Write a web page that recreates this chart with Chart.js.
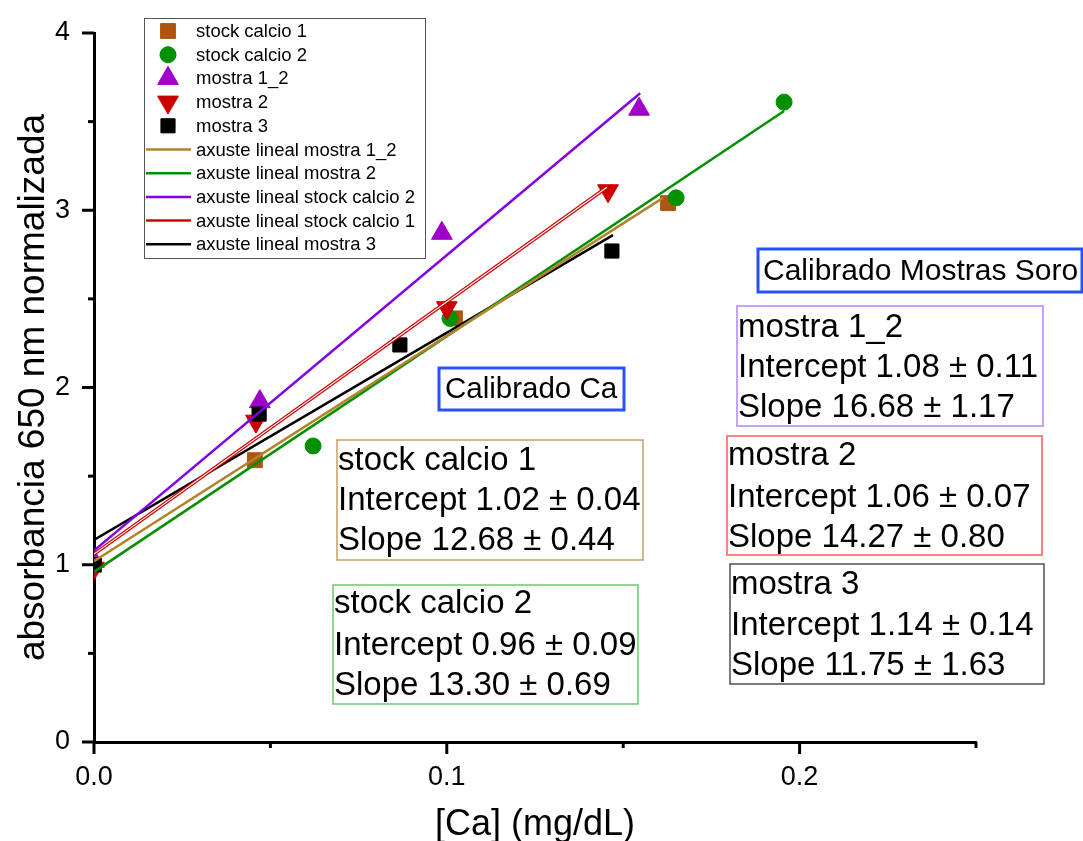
<!DOCTYPE html>
<html>
<head>
<meta charset="utf-8">
<script src="https://cdn.jsdelivr.net/npm/chart.js@4.4.1/dist/chart.umd.min.js"></script>
<style>
  html, body { margin: 0; padding: 0; background: #fff; }
  canvas { display: block; }
</style>
</head>
<body>
<canvas id="calChart" width="1083" height="841"></canvas>
<script>
const FONT = "'Liberation Sans', Arial, sans-serif";

// ===== datos medidos =====
const stockCalcio1X = [0, 0.0456, 0.1023, 0.1627];
const stockCalcio1Y = [1.00, 1.59, 2.39, 3.04];
const stockCalcio2X = [0, 0.0621, 0.1009, 0.1650, 0.1956];
const stockCalcio2Y = [1.00, 1.67, 2.39, 3.07, 3.61];
const mostra12X = [0, 0.0470, 0.0986, 0.1545];
const mostra12Y = [1.02, 1.92, 2.87, 3.57];
const mostra2X = [0, 0.0459, 0.1000, 0.1457];
const mostra2Y = [0.98, 1.81, 2.45, 3.11];
const mostra3X = [0, 0.0468, 0.0867, 0.1468];
const mostra3Y = [1.00, 1.85, 2.24, 2.77];

// ===== extremos das rectas de axuste =====
const fitMostra12X = [0, 0.1613];
const fitMostra12Y = [1.02, 3.07];
const fitMostra2X = [0, 0.1956];
const fitMostra2Y = [0.96, 3.56];
const fitStock2X = [0, 0.1548];
const fitStock2Y = [1.08, 3.66];
const fitStock1X = [0, 0.1454];
const fitStock1Y = [1.06, 3.13];
const fitMostra3X = [0, 0.1471];
const fitMostra3Y = [1.14, 2.86];

// ===== eixos =====
const xTicks = [0, 0.05, 0.1, 0.15, 0.2, 0.25];
const xTickLabels = ['0.0', '', '0.1', '', '0.2', ''];
const yTicks = [0, 0.5, 1, 1.5, 2, 2.5, 3, 3.5, 4];
const yTickLabels = ['0', '', '1', '', '2', '', '3', '', '4'];

// ===== textos dos cadros =====
const boxCalibradoCa = ['Calibrado Ca'];
const boxCalibradoSoro = ['Calibrado Mostras Soro'];
const boxStock1 = ['stock calcio 1', 'Intercept 1.02 \u00b1 0.04', 'Slope 12.68 \u00b1 0.44'];
const boxStock2 = ['stock calcio 2', 'Intercept 0.96 \u00b1 0.09', 'Slope 13.30 \u00b1 0.69'];
const boxMostra12 = ['mostra 1_2', 'Intercept 1.08 \u00b1 0.11', 'Slope 16.68 \u00b1 1.17'];
const boxMostra2 = ['mostra 2', 'Intercept 1.06 \u00b1 0.07', 'Slope 14.27 \u00b1 0.80'];
const boxMostra3 = ['mostra 3', 'Intercept 1.14 \u00b1 0.14', 'Slope 11.75 \u00b1 1.63'];

const pts = (xs, ys) => xs.map((x, i) => ({ x: x, y: ys[i] }));

function markers(label, xs, ys, color, style, radius, rotation, order) {
  return {
    label: label,
    data: pts(xs, ys),
    showLine: false,
    pointStyle: style,
    pointRadius: radius,
    pointRotation: rotation,
    pointBackgroundColor: color,
    pointBorderColor: color,
    pointBorderWidth: 1,
    backgroundColor: color,
    borderColor: color,
    order: order
  };
}

function fitLine(label, xs, ys, color, width, order, hidden) {
  return {
    label: label,
    data: pts(xs, ys),
    showLine: true,
    pointRadius: 0,
    borderColor: color,
    borderWidth: width,
    fill: false,
    order: order,
    noLegend: !!hidden
  };
}

const datasets = [
  markers('stock calcio 1', stockCalcio1X, stockCalcio1Y, '#AF5510', 'rect', 10.5, 0, 6),
  markers('stock calcio 2', stockCalcio2X, stockCalcio2Y, '#009000', 'circle', 8, 0, 5),
  markers('mostra 1_2', mostra12X, mostra12Y, '#A000C8', 'triangle', 12, 0, 4),
  markers('mostra 2', mostra2X, mostra2Y, '#CC0000', 'triangle', 12, 180, 3),
  markers('mostra 3', mostra3X, mostra3Y, '#000000', 'rect', 10, 0, 2),
  fitLine('axuste lineal mostra 1_2', fitMostra12X, fitMostra12Y, '#B4822A', 2.5, 1),
  fitLine('axuste lineal mostra 2', fitMostra2X, fitMostra2Y, '#009000', 2.5, 1),
  fitLine('axuste lineal stock calcio 2', fitStock2X, fitStock2Y, '#8200E6', 2.5, 1),
  fitLine('axuste lineal stock calcio 1', fitStock1X, fitStock1Y, '#D00000', 3.5, 1),
  fitLine('', fitStock1X, fitStock1Y, '#ffffff', 1.1, 0, true),
  fitLine('axuste lineal mostra 3', fitMostra3X, fitMostra3Y, '#000000', 2.5, 1)
];

// ---- marcas dos eixos (maiores e menores) ----
const axisTicks = {
  id: 'axisTicks',
  afterDraw(chart) {
    const { ctx, chartArea, scales } = chart;
    ctx.save();
    ctx.strokeStyle = '#000';
    ctx.lineWidth = 3;
    scales.x.ticks.forEach((t, i) => {
      const px = scales.x.getPixelForValue(t.value);
      const len = xTickLabels[i] ? 12 : 6;
      ctx.beginPath();
      ctx.moveTo(px, chartArea.bottom);
      ctx.lineTo(px, chartArea.bottom + len);
      ctx.stroke();
    });
    scales.y.ticks.forEach((t, i) => {
      const py = scales.y.getPixelForValue(t.value);
      const len = yTickLabels[i] ? 12 : 6;
      ctx.beginPath();
      ctx.moveTo(chartArea.left, py);
      ctx.lineTo(chartArea.left - len, py);
      ctx.stroke();
    });
    ctx.restore();
  }
};

// ---- lenda ----
const legendBox = {
  id: 'legendBox',
  afterDraw(chart) {
    const ctx = chart.ctx;
    const items = chart.data.datasets.filter(d => !d.noLegend);
    const left = 144, top = 18, right = 425, bottom = 258;
    ctx.save();
    ctx.fillStyle = '#fff';
    ctx.fillRect(left, top, right - left, bottom - top);
    ctx.strokeStyle = '#555';
    ctx.lineWidth = 1;
    ctx.strokeRect(left + 0.5, top + 0.5, right - left, bottom - top);
    ctx.font = '18.5px ' + FONT;
    ctx.textBaseline = 'middle';
    items.forEach((d, i) => {
      const cy = 31 + i * 23.7;
      if (d.showLine) {
        ctx.strokeStyle = d.borderColor;
        ctx.lineWidth = d.borderWidth > 3 ? 2.5 : d.borderWidth;
        ctx.beginPath();
        ctx.moveTo(146, cy);
        ctx.lineTo(191, cy);
        ctx.stroke();
      } else {
        ctx.fillStyle = d.pointBackgroundColor;
        ctx.strokeStyle = d.pointBorderColor;
        Chart.helpers.drawPoint(ctx, {
          pointStyle: d.pointStyle,
          radius: d.pointRadius,
          rotation: d.pointRotation,
          borderWidth: 1
        }, 168, cy);
      }
      ctx.fillStyle = '#000';
      ctx.fillText(d.label, 196, cy + 1);
    });
    ctx.restore();
  }
};

// ---- cadros de texto ----
const textBoxes = [
  { lines: boxCalibradoCa, rect: [439, 368, 624, 410], color: '#2850FF', lw: 3, size: 29.5, tx: 445, base: [398] },
  { lines: boxCalibradoSoro, rect: [758, 249, 1082, 292], color: '#2850FF', lw: 3, size: 30, tx: 763, base: [280] },
  { lines: boxStock1, rect: [337, 440, 643, 560], color: '#C8A064', lw: 1.5, size: 33, tx: 338, base: [470, 510, 550] },
  { lines: boxStock2, rect: [333, 585, 638, 704], color: '#6CC86C', lw: 1.5, size: 33, tx: 334, base: [613, 655, 695] },
  { lines: boxMostra12, rect: [737, 306, 1043, 426], color: '#B482FF', lw: 1.5, size: 33, tx: 738, base: [337, 377, 417] },
  { lines: boxMostra2, rect: [727, 436, 1042, 555], color: '#FF5A5A', lw: 1.5, size: 33, tx: 728, base: [465, 507, 547] },
  { lines: boxMostra3, rect: [730, 564, 1044, 684], color: '#505050', lw: 1.5, size: 33, tx: 731, base: [594, 635, 675] }
];

const annotationBoxes = {
  id: 'annotationBoxes',
  afterDraw(chart) {
    const ctx = chart.ctx;
    ctx.save();
    textBoxes.forEach(b => {
      const [x0, y0, x1, y1] = b.rect;
      ctx.fillStyle = '#fff';
      ctx.fillRect(x0, y0, x1 - x0, y1 - y0);
      ctx.strokeStyle = b.color;
      ctx.lineWidth = b.lw;
      ctx.strokeRect(x0, y0, x1 - x0, y1 - y0);
      ctx.fillStyle = '#000';
      ctx.font = b.size + 'px ' + FONT;
      ctx.textBaseline = 'alphabetic';
      b.lines.forEach((t, i) => ctx.fillText(t, b.tx, b.base[i]));
    });
    ctx.restore();
  }
};

new Chart(document.getElementById('calChart'), {
  type: 'scatter',
  data: { datasets: datasets },
  options: {
    responsive: false,
    animation: false,
    layout: { padding: { left: 0, top: 33, right: 107, bottom: 0 } },
    scales: {
      x: {
        type: 'linear',
        min: 0,
        max: 0.25,
        afterBuildTicks: s => { s.ticks = xTicks.map(v => ({ value: v })); },
        afterFit: s => { s.height = 99; s.paddingLeft = 0; s.paddingRight = 0; },
        grid: { display: false, drawTicks: false },
        border: { display: true, color: '#000', width: 3 },
        ticks: {
          autoSkip: false,
          maxRotation: 0,
          padding: 19,
          color: '#000',
          font: { family: FONT, size: 27 },
          callback: (v, i) => xTickLabels[i]
        },
        title: {
          display: true,
          text: '[Ca] (mg/dL)',
          color: '#000',
          font: { family: FONT, size: 36, lineHeight: 1.0 },
          padding: { top: 0, bottom: -2 }
        }
      },
      y: {
        type: 'linear',
        min: 0,
        max: 4,
        afterBuildTicks: s => { s.ticks = yTicks.map(v => ({ value: v })); },
        afterFit: s => { s.width = 94; s.paddingTop = 0; s.paddingBottom = 0; },
        grid: { display: false, drawTicks: false },
        border: { display: true, color: '#000', width: 3 },
        ticks: {
          autoSkip: false,
          padding: 24,
          color: '#000',
          font: { family: FONT, size: 27 },
          callback: (v, i) => yTickLabels[i]
        },
        title: {
          display: true,
          text: 'absorbancia 650 nm normalizada',
          color: '#000',
          font: { family: FONT, size: 37, lineHeight: 1.0 },
          padding: { top: 15, bottom: 0 }
        }
      }
    },
    plugins: {
      legend: { display: false },
      tooltip: { enabled: false }
    }
  },
  plugins: [axisTicks, annotationBoxes, legendBox]
});
</script>
</body>
</html>
